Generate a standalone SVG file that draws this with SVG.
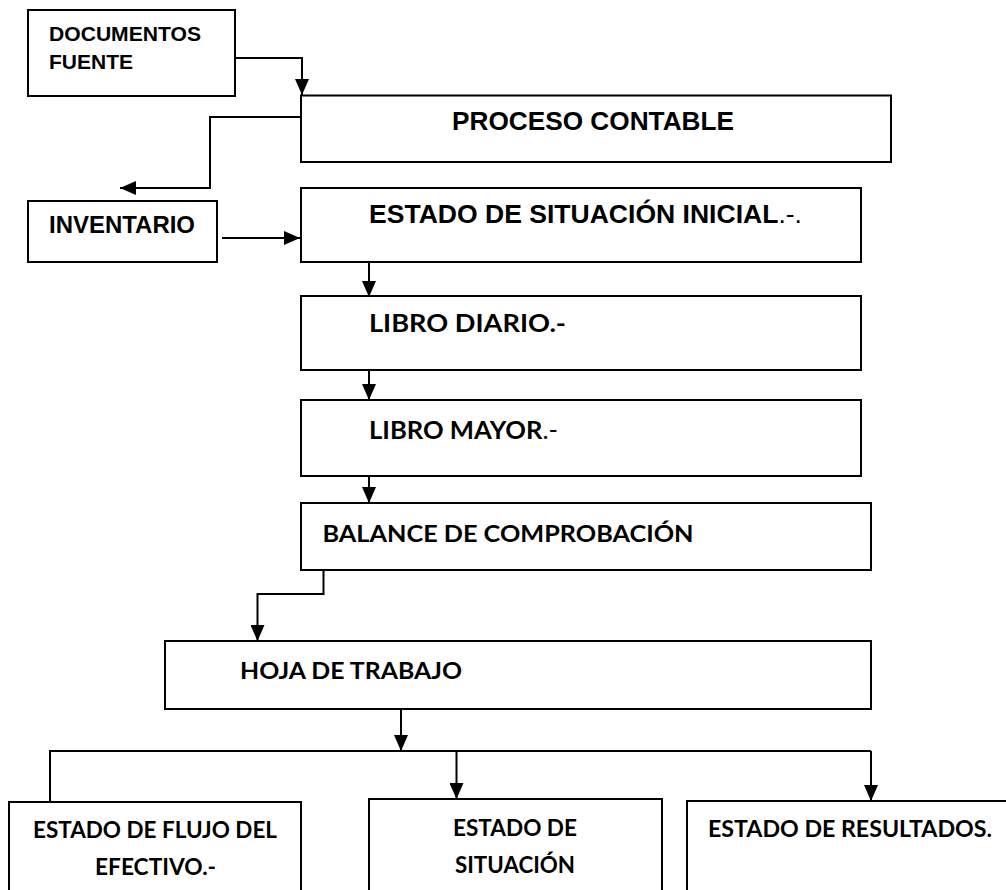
<svg xmlns="http://www.w3.org/2000/svg" width="1006" height="890" viewBox="0 0 1006 890">
<style>
.box{fill:#fff;stroke:#000;stroke-width:2}
.ar{font-family:"Liberation Sans",Arial,sans-serif;font-weight:bold;fill:#000}
.ca{font-family:Lato,"Open Sans",sans-serif;font-weight:bold;fill:#000}
.reg{font-weight:normal}
.ln{fill:none;stroke:#000;stroke-width:2}
</style>
<defs>
<marker id="ah" markerUnits="userSpaceOnUse" markerWidth="16" markerHeight="14" refX="16" refY="7" orient="auto">
<path d="M0,0 L16,7 L0,14 Z" fill="#000"/>
</marker>
</defs>
<rect width="1006" height="890" fill="#fff"/>
<g id="connectors">
<path class="ln" d="M235,58 H302 V95" marker-end="url(#ah)"/>
<path class="ln" d="M301,117 H210 V188 H120" marker-end="url(#ah)"/>
<path class="ln" d="M222,238 H300" marker-end="url(#ah)"/>
<path class="ln" d="M369,262 V297" marker-end="url(#ah)"/>
<path class="ln" d="M369,370 V400" marker-end="url(#ah)"/>
<path class="ln" d="M369,476 V503" marker-end="url(#ah)"/>
<path class="ln" d="M323.5,570 V594 H257.5 V641" marker-end="url(#ah)"/>
<path class="ln" d="M401,709 V751" marker-end="url(#ah)"/>
<path class="ln" d="M50,802 V751 H871"/>
<path class="ln" d="M456.5,751 V799" marker-end="url(#ah)"/>
<path class="ln" d="M871,751 V801" marker-end="url(#ah)"/>
</g>
<g id="documentos">
<rect class="box" x="28" y="10" width="207" height="86"/>
<text class="ar" x="49" y="41" font-size="21" textLength="152" lengthAdjust="spacingAndGlyphs">DOCUMENTOS</text>
<text class="ar" x="49" y="69" font-size="21">FUENTE</text>
</g>
<g id="proceso">
<rect class="box" x="301" y="95.5" width="590" height="66.5"/>
<text class="ar" x="452" y="130" font-size="26" textLength="282" lengthAdjust="spacingAndGlyphs">PROCESO CONTABLE</text>
</g>
<g id="inventario">
<rect class="box" x="28" y="201" width="189" height="61"/>
<text class="ar" x="49" y="233" font-size="23" textLength="146" lengthAdjust="spacingAndGlyphs">INVENTARIO</text>
</g>
<g id="estado-inicial">
<rect class="box" x="301" y="188" width="560" height="74"/>
<text class="ar" x="369" y="223" font-size="26" textLength="433" lengthAdjust="spacingAndGlyphs">ESTADO DE SITUACIÓN INICIAL<tspan class="reg">.-.</tspan></text>
</g>
<g id="libro-diario">
<rect class="box" x="301" y="296" width="560" height="74"/>
<text class="ca" x="369" y="332" font-size="25" textLength="197" lengthAdjust="spacingAndGlyphs">LIBRO DIARIO.-</text>
</g>
<g id="libro-mayor">
<rect class="box" x="301" y="400" width="560" height="76"/>
<text class="ca" x="369" y="439" font-size="24.5" textLength="189" lengthAdjust="spacingAndGlyphs">LIBRO MAYOR<tspan class="reg">.-</tspan></text>
</g>
<g id="balance">
<rect class="box" x="301" y="503" width="570" height="67"/>
<text class="ca" x="322.5" y="541.5" font-size="23.3" textLength="371" lengthAdjust="spacingAndGlyphs">BALANCE DE COMPROBACIÓN</text>
</g>
<g id="hoja">
<rect class="box" x="165" y="641" width="706" height="68"/>
<text class="ca" x="240" y="679" font-size="22.8" textLength="222" lengthAdjust="spacingAndGlyphs">HOJA DE TRABAJO</text>
</g>
<g id="flujo">
<rect class="box" x="9" y="802" width="292" height="100"/>
<text class="ca" x="33" y="838" font-size="22.8" textLength="244" lengthAdjust="spacingAndGlyphs">ESTADO DE FLUJO DEL</text>
<text class="ca" x="95" y="875" font-size="22.8" textLength="121" lengthAdjust="spacingAndGlyphs">EFECTIVO.-</text>
</g>
<g id="situacion">
<rect class="box" x="369" y="799" width="293" height="100"/>
<text class="ca" x="453" y="835.5" font-size="22.8" textLength="124" lengthAdjust="spacingAndGlyphs">ESTADO DE</text>
<text class="ca" x="455" y="872.5" font-size="22.8" textLength="120" lengthAdjust="spacingAndGlyphs">SITUACIÓN</text>
</g>
<g id="resultados">
<rect class="box" x="687" y="801" width="330" height="100"/>
<text class="ca" x="708" y="836.5" font-size="22.8" textLength="284" lengthAdjust="spacingAndGlyphs">ESTADO DE RESULTADOS.</text>
</g>
</svg>
